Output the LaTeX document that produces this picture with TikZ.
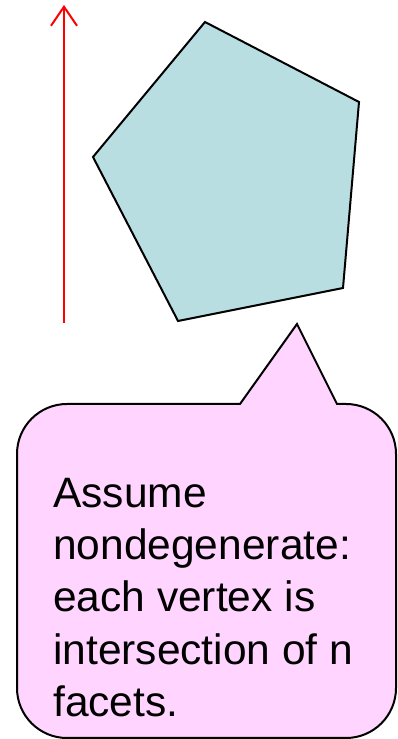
\documentclass[tikz,border=0pt]{standalone}
\usepackage{fontspec}
\setmainfont{Liberation Sans}
\usetikzlibrary{arrows.meta}
\definecolor{facetblue}{HTML}{B9DEE2}
\definecolor{notepink}{HTML}{FFD5FF}

\begin{document}
\begin{tikzpicture}[
  x=1pt, y=1pt,
  poly/.style={draw,fill=facetblue,line width=2pt,line join=miter},
  note/.style={draw,fill=notepink,line width=2pt},
  dir/.style={-{Straight Barb[length=19pt,width=26pt,line width=2pt]},red,line width=2pt},
  txt/.style={font=\fontsize{42.5}{52.2}\selectfont,align=left,inner sep=0pt},
]
  \useasboundingbox (0,0) rectangle (397,739);

  % objective direction
  \coordinate (dirlow) at (64,416);
  \coordinate (dirhigh) at (64,734);
  \draw[dir] (dirlow) -- (dirhigh);

  % the polytope
  \coordinate (v1) at (205,717);
  \coordinate (v2) at (359,637);
  \coordinate (v3) at (343,451);
  \coordinate (v4) at (178,418);
  \coordinate (v5) at (93,582);
  \draw[poly] (v1) -- (v2) -- (v3) -- (v4) -- (v5) -- cycle;

  % callout
  \coordinate (tip) at (297,415);
  \draw[note] (240,335) -- (tip) -- (337,335) -- (346,335)
    arc[start angle=90,end angle=0,radius=50] -- (396,51)
    arc[start angle=0,end angle=-90,radius=50] -- (67,1)
    arc[start angle=270,end angle=180,radius=50] -- (17,285)
    arc[start angle=180,end angle=90,radius=50] -- cycle;
  \node[txt,anchor=north west] (remark) at (53,261)
    {Assume\\ nondegenerate:\\ each vertex is\\ intersection of n\\ facets.};
\end{tikzpicture}
\end{document}
